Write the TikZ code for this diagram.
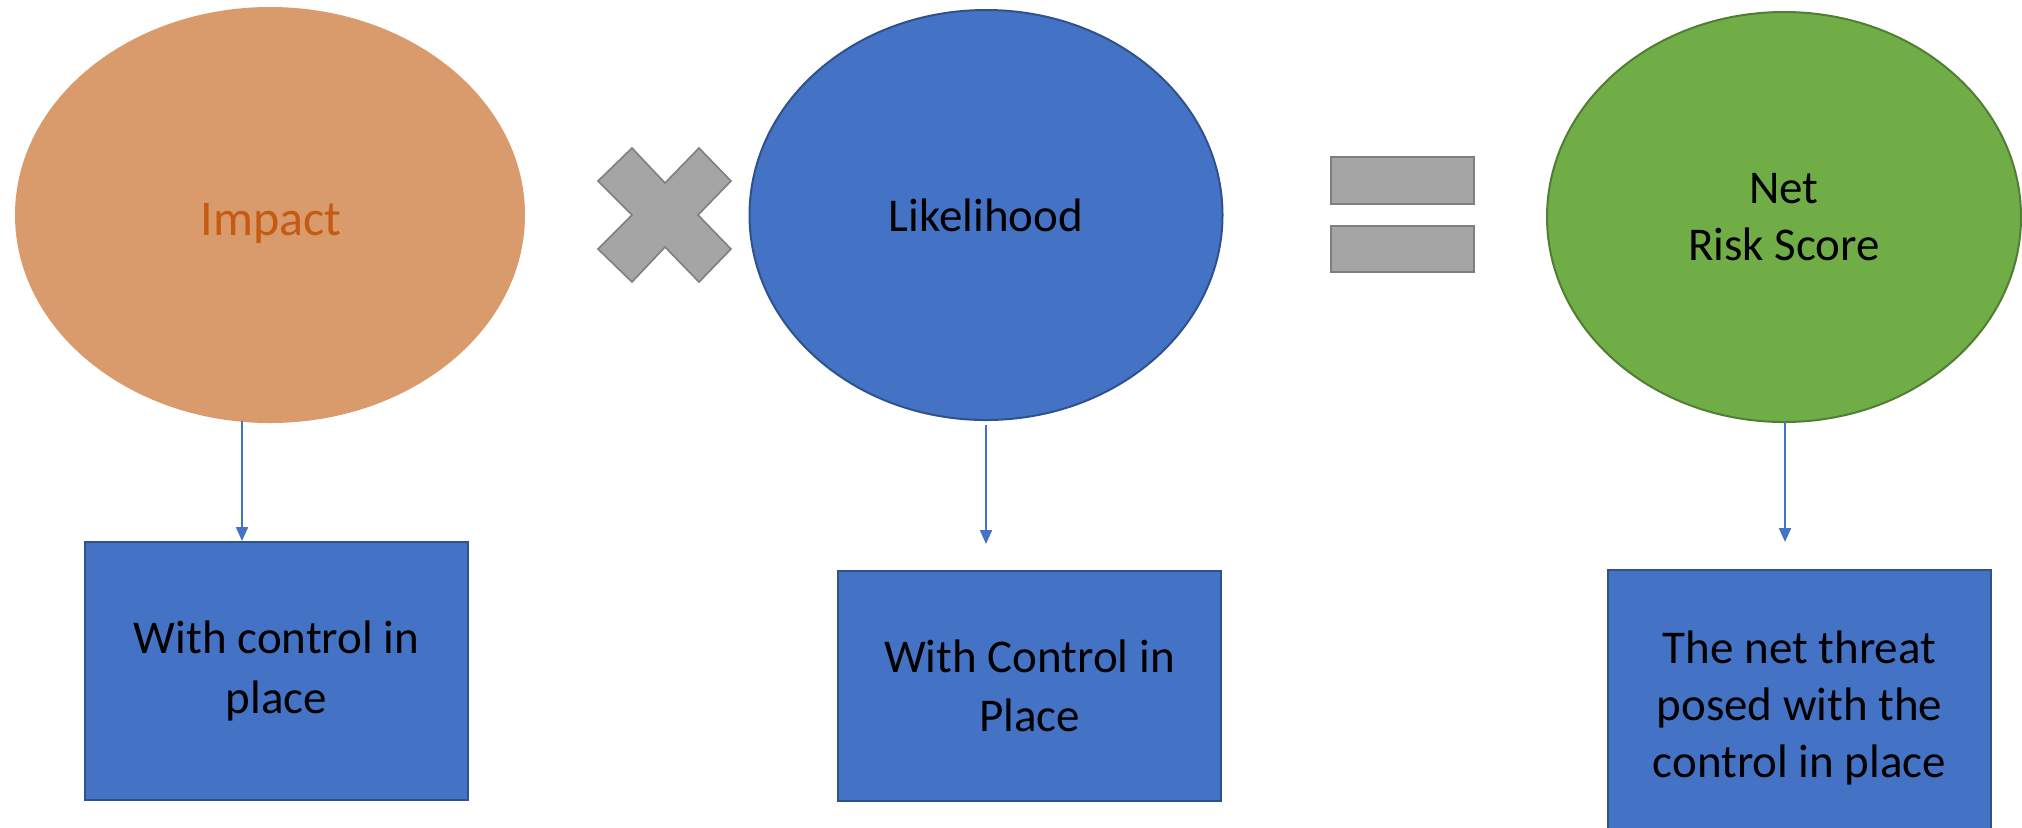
\documentclass[tikz,border=0pt]{standalone}
\usepackage{fontspec}
\setmainfont{Carlito}
\usetikzlibrary{shapes.geometric,arrows.meta}
\definecolor{bluef}{HTML}{4472C4}
\definecolor{blued}{HTML}{2F528F}
\definecolor{greenf}{HTML}{70AD47}
\definecolor{greend}{HTML}{507E32}
\definecolor{orangef}{HTML}{D99A6C}
\definecolor{orangetxt}{HTML}{C55A11}
\definecolor{grayf}{HTML}{A5A5A5}
\definecolor{grayd}{HTML}{7F7F7F}
\tikzset{
  txt/.style={font=\fontsize{23.5}{28.5}\selectfont, align=center, text=black},
  oval/.style={ellipse, inner sep=0pt, txt},
  boxnode/.style={rectangle, draw=blued, fill=bluef, line width=1pt, inner sep=0pt, txt},
  arr/.style={draw=bluef, line width=1pt, -{Triangle[length=7pt,width=6pt]}},
  opshape/.style={fill=grayf, draw=grayd, line width=0.8pt},
}
\begin{document}
\begin{tikzpicture}[x=0.5pt,y=-0.5pt]
\clip (0,0) rectangle (2022,827);
\fill[white] (0,0) rectangle (2022,827);
% ellipses
\node[oval, fill=orangef, minimum width=255pt, minimum height=208pt] (imp) at (270,215) {};
\node[txt, text=orangetxt, font=\fontsize{25}{30}\selectfont, inner sep=0pt] (impt) at (271,223) {Impact};
\node[oval, fill=bluef, draw=blued, line width=1pt, minimum width=236.5pt, minimum height=205pt] (lik) at (986,215) {Likelihood};
\node[oval, fill=greenf, draw=greend, line width=1pt, minimum width=237pt, minimum height=205pt] (net) at (1784,217) {Net\\Risk Score};
% times sign
\draw[opshape] (665,215) ++(-67,-34) -- ++(34,-33) -- ++(33,35) -- ++(34,-35) -- ++(32,33) -- ++(-33,34)
  -- ++(33,34) -- ++(-32,33) -- ++(-34,-35) -- ++(-33,35) -- ++(-34,-33) -- ++(34,-34) -- cycle;
% equals sign
\draw[opshape] (1331,157) rectangle (1474,204);
\draw[opshape] (1331,226) rectangle (1474,272);
% boxes
\node[boxnode, minimum width=191.5pt, minimum height=129pt] (b1) at (276.5,671) {With control in\\[1.5pt]place};
\node[boxnode, minimum width=191.5pt, minimum height=115pt] (b2) at (1029.5,686) {With Control in\\[1pt]Place};
\node[boxnode, minimum width=191.5pt, minimum height=138pt] (b3) at (1799.5,708) {The net threat\\posed with the\\control in place};
% arrows
\coordinate (a1s) at (242,421);
\coordinate (a2s) at (986,425);
\coordinate (a2e) at (986,544);
\coordinate (a3s) at (1785,421);
\coordinate (a3e) at (1785,542);
\draw[arr] (a1s) -- (a1s |- b1.north);
\draw[arr] (a2s) -- (a2e);
\draw[arr] (a3s) -- (a3e);
\end{tikzpicture}
\end{document}
